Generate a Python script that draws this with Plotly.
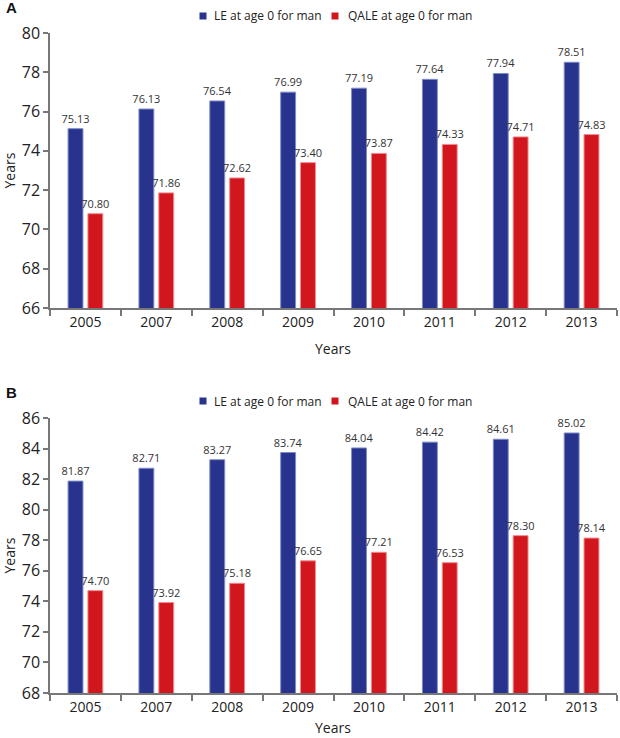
import plotly.graph_objects as go

# === Data ===
years = ["2005", "2007", "2008", "2009", "2010", "2011", "2012", "2013"]
le_a = [75.13, 76.13, 76.54, 76.99, 77.19, 77.64, 77.94, 78.51]
qale_a = [70.80, 71.86, 72.62, 73.40, 73.87, 74.33, 74.71, 74.83]
le_b = [81.87, 82.71, 83.27, 83.74, 84.04, 84.42, 84.61, 85.02]
qale_b = [74.70, 73.92, 75.18, 76.65, 77.21, 76.53, 78.30, 78.14]
series_names = ["LE at age 0 for man", "QALE at age 0 for man"]

BLUE = "#27338d"
RED = "#d2161e"
FONT = "Open Sans"
TXT = "#222222"

W, H = 620, 738
# plot area in page pixels: x 50..617, y 33..693
L, R, T, B = 50, 3, 33, 45
PW, PH = W - L - R, H - T - B


def px(x):  # page pixel -> paper x
    return (x - L) / PW


def py(y):  # page pixel -> paper y
    return (H - B - y) / PH


fig = go.Figure()


def add_pair(le, qale, xa, ya):
    for name, vals, col, edge in [
        (series_names[0], le, BLUE, "#7f8cc8"),
        (series_names[1], qale, RED, "#f08a8e"),
    ]:
        fig.add_trace(go.Bar(
            x=years, y=vals, name=name, showlegend=False,
            marker=dict(color=col, line=dict(color=edge, width=1)),
            texttemplate="%{y:.2f}", textposition="outside",
            constraintext="none",
            textfont=dict(size=11, color="#333333", family=FONT),
            cliponaxis=False,
            xaxis=xa, yaxis=ya,
        ))


add_pair(le_a, qale_a, "x", "y")
add_pair(le_b, qale_b, "x2", "y2")

axis_line = dict(showline=True, linecolor="#777777", linewidth=1.5,
                 ticks="outside", tickcolor="#777777", tickwidth=1.5,
                 showgrid=False, zeroline=False)
xcommon = dict(axis_line, ticklen=6, tickson="boundaries",
               tickfont=dict(size=14, color=TXT, family=FONT))
ycommon = dict(axis_line, ticklen=5,
               tickfont=dict(size=16, color=TXT, family=FONT))

annotations = []
shapes = []
# panel top / bottom (page pixels) and x-title position
panels = [("A", 33, 308, 348), ("B", 418, 693, 727)]
for letter, top, bottom, xtitle_y in panels:
    annotations.append(dict(text=f"<b>{letter}</b>", x=px(4), y=py(top - 26),
                            xanchor="left", yanchor="middle",
                            font=dict(size=15, color="#111111", family="Liberation Sans")))
    annotations.append(dict(text="Years", x=px(333), y=py(xtitle_y),
                            xanchor="center", yanchor="middle",
                            font=dict(size=14, color=TXT, family=FONT)))
    annotations.append(dict(text="Years", x=px(9), y=py((top + bottom) / 2),
                            textangle=-90, xanchor="center", yanchor="middle",
                            font=dict(size=14, color=TXT, family=FONT)))
    # legend
    ly = top - 17
    for name, col, sx, tx in [(series_names[0], BLUE, 203, 212),
                              (series_names[1], RED, 335, 346)]:
        shapes.append(dict(type="rect", xref="paper", yref="paper",
                           x0=px(sx - 3.5), x1=px(sx + 3.5),
                           y0=py(ly + 3.5), y1=py(ly - 3.5),
                           fillcolor=col, line=dict(width=0)))
        annotations.append(dict(text=name, x=px(tx), y=py(ly),
                                xanchor="left", yanchor="middle",
                                font=dict(size=12, color=TXT, family=FONT)))

for a in annotations:
    a.update(xref="paper", yref="paper", showarrow=False)

fig.update_layout(
    width=W, height=H,
    margin=dict(l=L, r=R, t=T, b=B),
    paper_bgcolor="white", plot_bgcolor="white",
    barmode="group", bargap=0.44, bargroupgap=0.25,
    font=dict(family=FONT),
    showlegend=False,
    xaxis=dict(xcommon, domain=[0, 1], anchor="y"),
    yaxis=dict(ycommon, domain=[py(308), py(33)], range=[66, 80], dtick=2, anchor="x"),
    xaxis2=dict(xcommon, domain=[0, 1], anchor="y2"),
    yaxis2=dict(ycommon, domain=[py(693), py(418)], range=[68, 86], dtick=2, anchor="x2"),
    annotations=annotations,
    shapes=shapes,
)

# drop the browser's default 8px body margin so the figure fills the window
fig.write_html("out.html", config={"displayModeBar": False},
               post_script="document.body.style.margin = '0px';")
